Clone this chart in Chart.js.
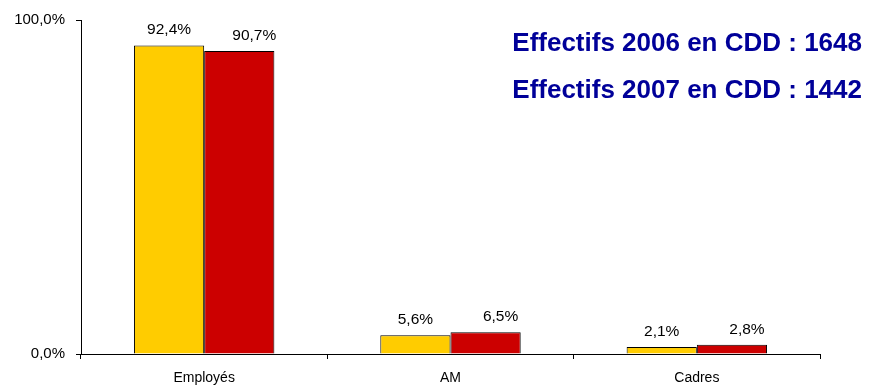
<!DOCTYPE html>
<html>
<head>
<meta charset="utf-8">
<script src="https://cdn.jsdelivr.net/npm/chart.js@4/dist/chart.umd.min.js"></script>
<style>
  html, body { margin: 0; padding: 0; background: #fff; }
  #wrap { width: 871px; height: 386px; }
</style>
</head>
<body>
<div id="wrap"><canvas id="chart"></canvas></div>
<script>
// Data
const categories = ['Employés', 'AM', 'Cadres'];
const values2006 = [92.4, 5.6, 2.1];
const values2007 = [90.7, 6.5, 2.8];
const headlines = ['Effectifs 2006 en CDD : 1648', 'Effectifs 2007 en CDD : 1442'];

const fmt = (v, d) => v.toFixed(d).replace('.', ',') + '%';
const FONT = '"Liberation Sans", Arial, sans-serif';

// value labels above each bar (the 2007 ones sit a bit to the right)
const barLabels = {
    id: 'barLabels',
    afterDatasetsDraw(chart) {
        const ctx = chart.ctx;
        ctx.save();
        ctx.font = '15.5px ' + FONT;
        ctx.fillStyle = '#000';
        ctx.textAlign = 'center';
        ctx.textBaseline = 'alphabetic';
        chart.data.datasets.forEach((ds, i) => {
            const dx = i === 1 ? 15 : 0;
            chart.getDatasetMeta(i).data.forEach((bar, j) => {
                ctx.fillText(fmt(ds.data[j], 1), bar.x + dx, bar.y - 11);
            });
        });
        ctx.restore();
    }
};

// headline text top right
const headlineText = {
    id: 'headlineText',
    afterDraw(chart) {
        const ctx = chart.ctx;
        ctx.save();
        ctx.font = 'bold 26px ' + FONT;
        ctx.fillStyle = '#000099';
        ctx.textAlign = 'right';
        ctx.textBaseline = 'alphabetic';
        ctx.fillText(headlines[0], 862, 51);
        ctx.fillText(headlines[1], 862, 98);
        ctx.restore();
    }
};

new Chart(document.getElementById('chart'), {
    type: 'bar',
    data: {
        labels: categories,
        datasets: [
            {
                label: '2006',
                data: values2006,
                backgroundColor: '#FFCC00',
                borderColor: '#000',
                borderWidth: 1,
                categoryPercentage: 0.57,
                barPercentage: 1
            },
            {
                label: '2007',
                data: values2007,
                backgroundColor: '#CC0000',
                borderColor: '#000',
                borderWidth: 1,
                categoryPercentage: 0.57,
                barPercentage: 1
            }
        ]
    },
    options: {
        responsive: true,
        maintainAspectRatio: false,
        animation: false,
        layout: { padding: { top: 20, right: 51, left: 0, bottom: 0 } },
        plugins: {
            legend: { display: false },
            tooltip: { enabled: false }
        },
        scales: {
            x: {
                grid: {
                    drawOnChartArea: false,
                    color: '#000',
                    tickLength: 5,
                    offset: true
                },
                border: { color: '#000', width: 1 },
                ticks: {
                    color: '#000',
                    font: { family: FONT, size: 14 },
                    padding: 11
                },
                afterFit(s) { s.height = 32; }
            },
            y: {
                min: 0,
                max: 100,
                grid: {
                    drawOnChartArea: false,
                    color: '#000',
                    tickLength: 5
                },
                border: { color: '#000', width: 1 },
                ticks: {
                    stepSize: 100,
                    color: '#000',
                    font: { family: FONT, size: 15 },
                    padding: 11,
                    callback: (v) => fmt(v, 1)
                },
                afterFit(s) { s.width = 81; }
            }
        }
    },
    plugins: [barLabels, headlineText]
});
</script>
</body>
</html>
